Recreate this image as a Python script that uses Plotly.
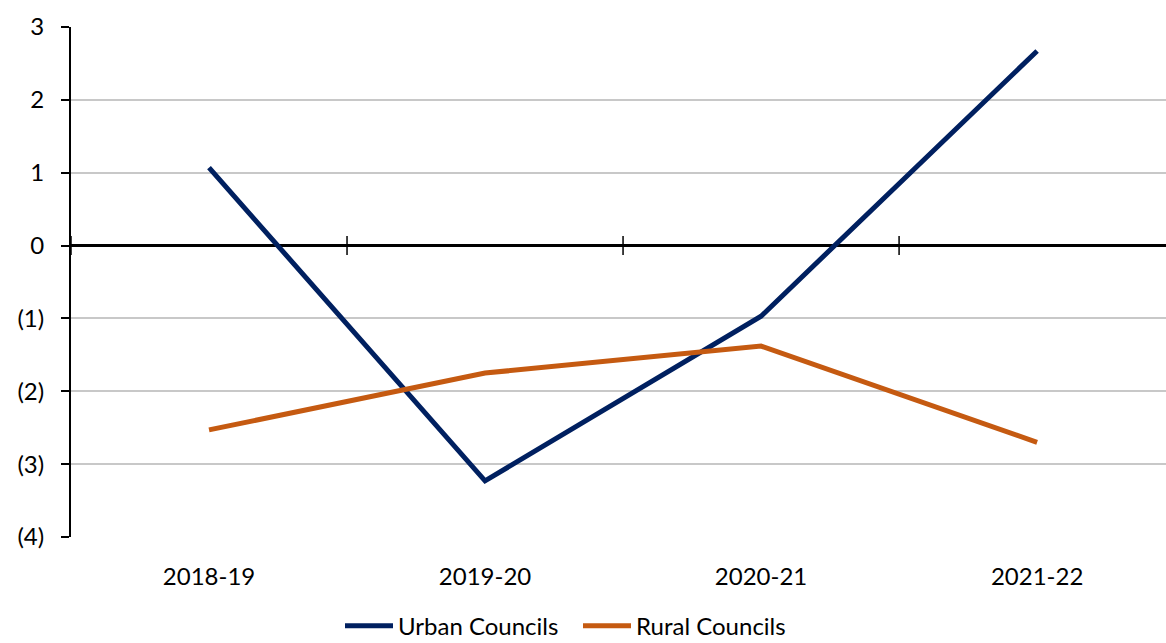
import plotly.graph_objects as go

years = ["2018-19", "2019-20", "2020-21", "2021-22"]
urban = [1.07, -3.23, -0.97, 2.67]
rural = [-2.53, -1.75, -1.38, -2.70]

y_ticks = [3, 2, 1, 0, -1, -2, -3, -4]
y_labels = ["3", "2", "1", "0", "(1)", "(2)", "(3)", "(4)"]

FONT = "Lato"
NAVY = "#002060"
ORANGE = "#C55A11"

xpos = list(range(len(years)))

fig = go.Figure()
fig.add_trace(go.Scatter(x=xpos, y=urban, mode="lines", name="Urban Councils",
                         line=dict(color=NAVY, width=5)))
fig.add_trace(go.Scatter(x=xpos, y=rural, mode="lines", name="Rural Councils",
                         line=dict(color=ORANGE, width=5)))

# category boundary ticks crossing the zero line
for b in [i - 0.5 for i in range(len(years))]:
    fig.add_shape(type="line", xref="x", yref="y", x0=b, x1=b, y0=-0.13, y1=0.13,
                  line=dict(color="black", width=1.5), layer="above")

fig.update_layout(
    width=1166, height=643,
    margin=dict(l=71, r=0, t=27, b=106, autoexpand=False),
    paper_bgcolor="white", plot_bgcolor="white",
    font=dict(family=FONT, size=24, color="black"),
    showlegend=True,
    legend=dict(orientation="h", x=(345 - 71 - 5) / 1095, xanchor="left",
                y=-0.175, yanchor="middle",
                font=dict(size=24), itemwidth=48,
                entrywidth=175, entrywidthmode="pixels"),
)
fig.update_xaxes(
    range=[-0.5, 3.467], tickvals=xpos, ticktext=years,
    showgrid=False, zeroline=False, showline=False,
    ticks="outside", ticklen=18, tickcolor="rgba(0,0,0,0)",
    fixedrange=True,
)
fig.update_yaxes(
    range=[-4, 3], tickvals=y_ticks, ticktext=y_labels,
    showgrid=True, gridcolor="#C8C8C8", gridwidth=2,
    zeroline=True, zerolinecolor="black", zerolinewidth=2.5,
    showline=True, linecolor="black", linewidth=2,
    ticks="outside", ticklen=8, tickwidth=2, tickcolor="black",
    ticklabelstandoff=12,
)

fig.write_html("out.html")
